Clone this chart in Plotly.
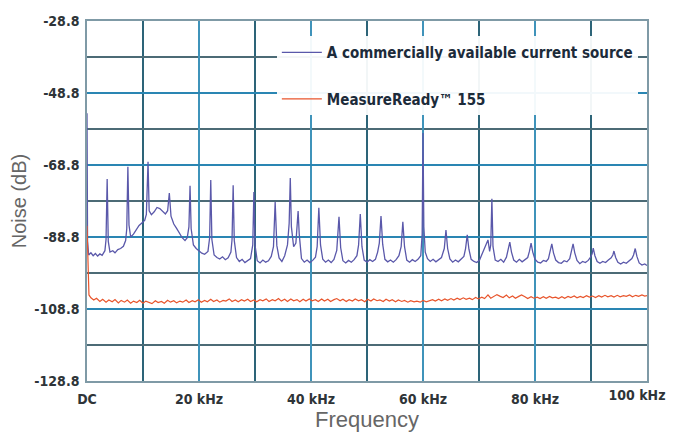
import plotly.graph_objects as go

# ---------------- data ----------------
x_tick_vals = [0, 20, 40, 60, 80, 100]
x_tick_text = ["DC", "20 kHz", "40 kHz", "60 kHz", "80 kHz", "100 kHz"]
y_tick_vals = [-128.8, -108.8, -88.8, -68.8, -48.8, -28.8]
y_tick_text = ["-128.8", "-108.8", "-88.8", "-68.8", "-48.8", "-28.8"]

series_names = ["A commercially available current source", "MeasureReady\u2122 155"]

blue_freq_khz = [
    0.0, 0.1, 0.3, 0.7, 1.1, 1.5, 1.9, 2.3, 2.7, 3.2,
    3.4, 3.6, 3.8, 4.1, 4.6, 5.0, 5.5, 6.0, 6.5, 6.9,
    7.1, 7.3, 7.5, 7.8, 8.3, 8.8, 9.3, 9.8, 10.3, 10.6,
    10.9, 11.1, 11.5, 12.0, 12.5, 13.0, 13.5, 14.0, 14.4, 14.7,
    15.0, 15.5, 16.0, 16.5, 17.0, 17.5, 17.9, 18.2, 18.4, 18.6,
    19.0, 19.5, 20.0, 20.5, 21.0, 21.6, 21.9, 22.1, 22.3, 22.7,
    23.2, 23.7, 24.2, 24.7, 25.2, 25.7, 25.9, 26.1, 26.3, 26.7,
    27.2, 27.7, 28.2, 28.7, 29.2, 29.6, 29.8, 30.0, 30.4, 30.9,
    31.4, 31.9, 32.4, 32.9, 33.3, 33.6, 33.9, 34.3, 34.8, 35.3,
    35.8, 36.1, 36.3, 36.5, 36.9, 37.3, 37.5, 37.7, 37.9, 38.3,
    38.8, 39.3, 39.8, 40.3, 40.8, 41.1, 41.4, 41.7, 42.1, 42.6,
    43.1, 43.6, 44.1, 44.6, 45.0, 45.3, 45.7, 46.2, 46.7, 47.2,
    47.7, 48.2, 48.5, 48.8, 49.1, 49.5, 50.0, 50.5, 51.0, 51.5,
    51.9, 52.2, 52.5, 52.8, 53.2, 53.7, 54.2, 54.7, 55.2, 55.7,
    56.1, 56.4, 56.7, 57.1, 57.6, 58.1, 58.6, 59.1, 59.6, 59.85,
    60.0, 60.15, 60.4, 60.8, 61.3, 61.8, 62.3, 62.8, 63.3, 63.8,
    64.1, 64.4, 64.8, 65.3, 65.8, 66.3, 66.8, 67.3, 67.6, 67.9,
    68.2, 68.6, 69.1, 69.6, 70.1, 70.6, 71.0, 71.4, 71.6, 71.9,
    72.1, 72.3, 72.5, 72.9, 73.4, 73.9, 74.4, 74.9, 75.2, 75.5,
    75.8, 76.2, 76.7, 77.2, 77.7, 78.2, 78.7, 79.0, 79.3, 79.6,
    80.0, 80.5, 81.0, 81.5, 82.0, 82.4, 82.7, 83.0, 83.3, 83.7,
    84.2, 84.7, 85.2, 85.7, 86.2, 86.5, 86.8, 87.1, 87.5, 88.0,
    88.5, 89.0, 89.5, 89.9, 90.2, 90.4, 90.7, 91.1, 91.6, 92.1,
    92.6, 93.1, 93.6, 93.9, 94.1, 94.4, 94.8, 95.3, 95.8, 96.3,
    96.8, 97.3, 97.6, 97.9, 98.2, 98.6, 99.1, 99.6, 100.0,
]
blue_db = [
    -54.4, -90.0, -93.8, -93.2, -94.0, -93.4, -94.1, -93.5, -93.9, -92.6,
    -89.5, -72.7, -90.0, -93.0, -92.6, -93.2, -92.3, -92.0, -91.4, -89.8,
    -86.5, -69.3, -85.5, -88.8, -88.0, -86.6, -85.6, -84.9, -84.2, -82.5,
    -67.9, -81.5, -82.6, -81.8, -80.6, -80.9, -81.6, -82.4, -81.5, -76.6,
    -83.0, -85.2, -86.4, -87.8, -89.0, -89.8, -89.0, -86.0, -74.6, -86.5,
    -91.0, -92.0, -92.6, -93.3, -93.6, -92.8, -89.0, -73.0, -89.5, -93.8,
    -94.5, -94.9, -94.3, -95.1, -94.6, -93.0, -89.5, -74.4, -89.8, -94.5,
    -95.6, -95.0, -95.9, -95.3, -94.8, -91.0, -76.3, -91.0, -95.4, -96.0,
    -95.2, -95.8, -95.4, -94.2, -91.5, -79.1, -91.2, -94.6, -95.6, -94.0,
    -91.0, -85.0, -72.4, -86.0, -91.5, -90.5, -86.0, -81.6, -88.0, -94.8,
    -95.8, -95.2, -95.9, -95.3, -94.4, -91.5, -80.7, -91.0, -95.0, -95.8,
    -95.2, -95.9, -95.0, -92.5, -83.2, -91.8, -95.4, -96.0, -95.3, -95.8,
    -95.1, -94.0, -91.0, -82.4, -91.5, -95.2, -95.8, -95.1, -95.6, -95.0,
    -93.0, -90.5, -83.0, -90.8, -95.0, -95.7, -95.2, -95.8, -95.1, -94.0,
    -91.5, -84.6, -91.5, -95.2, -95.8, -95.1, -95.6, -95.0, -94.0, -88.0,
    -59.9, -86.0, -93.0, -94.8, -95.6, -95.0, -95.7, -95.2, -94.5, -92.0,
    -86.9, -92.0, -94.9, -95.8, -95.2, -95.7, -95.0, -94.2, -92.0, -88.2,
    -92.2, -95.0, -95.6, -95.9, -95.2, -93.5, -92.0, -90.5, -89.6, -92.8,
    -91.0, -78.2, -91.5, -95.2, -95.6, -95.0, -95.8, -94.4, -92.5, -90.2,
    -93.0, -95.2, -95.8, -95.0, -95.7, -95.2, -94.5, -92.8, -90.5, -93.0,
    -95.0, -95.8, -96.0, -95.3, -95.6, -94.8, -93.0, -90.7, -93.2, -95.2,
    -95.9, -96.1, -95.4, -95.7, -94.8, -93.0, -90.7, -93.2, -95.3, -96.2,
    -95.6, -95.9, -95.3, -94.5, -93.5, -91.9, -94.0, -95.6, -96.1, -95.6,
    -95.9, -95.2, -94.6, -93.8, -92.7, -94.5, -95.8, -96.3, -95.8, -96.1,
    -95.5, -94.8, -93.8, -92.0, -94.2, -96.0, -96.6, -96.3, -96.7,
]

red_freq_khz = [
    0.0, 0.15, 0.35, 0.7, 1.2, 1.7, 2.3, 2.8, 3.4, 3.9,
    4.5, 5.0, 5.6, 6.1, 6.7, 7.2, 7.8, 8.3, 8.9, 9.4,
    10.0, 10.5, 11.1, 11.6, 12.2, 12.7, 13.3, 13.8, 14.4, 14.9,
    15.5, 16.0, 16.6, 17.1, 17.7, 18.2, 18.8, 19.3, 19.9, 20.4,
    21.0, 21.5, 22.1, 22.6, 23.2, 23.7, 24.3, 24.8, 25.4, 25.9,
    26.5, 27.0, 27.6, 28.1, 28.7, 29.2, 29.8, 30.3, 30.9, 31.4,
    32.0, 32.5, 33.1, 33.6, 34.2, 34.7, 35.3, 35.8, 36.4, 36.9,
    37.5, 38.0, 38.6, 39.1, 39.7, 40.2, 40.8, 41.3, 41.9, 42.4,
    43.0, 43.5, 44.1, 44.6, 45.2, 45.7, 46.3, 46.8, 47.4, 47.9,
    48.5, 49.0, 49.6, 50.1, 50.7, 51.2, 51.8, 52.3, 52.9, 53.4,
    54.0, 54.5, 55.1, 55.6, 56.2, 56.7, 57.3, 57.8, 58.4, 58.9,
    59.5, 60.0, 60.6, 61.1, 61.7, 62.2, 62.8, 63.3, 63.9, 64.4,
    65.0, 65.5, 66.1, 66.6, 67.2, 67.7, 68.3, 68.8, 69.4, 69.9,
    70.5, 71.0, 71.6, 72.1, 72.7, 73.2, 73.8, 74.3, 74.9, 75.4,
    76.0, 76.5, 77.1, 77.6, 78.2, 78.7, 79.3, 79.8, 80.4, 80.9,
    81.5, 82.0, 82.6, 83.1, 83.7, 84.2, 84.8, 85.3, 85.9, 86.4,
    87.0, 87.5, 88.1, 88.6, 89.2, 89.7, 90.3, 90.8, 91.4, 91.9,
    92.5, 93.0, 93.6, 94.1, 94.7, 95.2, 95.8, 96.3, 96.9, 97.4,
    98.0, 98.5, 99.1, 99.6, 100.0,
]
red_db = [
    -85.7, -97.0, -104.9, -105.7, -106.3, -105.8, -106.7, -106.1, -106.9, -106.3,
    -106.8, -106.2, -107.1, -106.4, -106.9, -106.3, -107.2, -106.6, -107.0, -106.4,
    -107.2, -106.6, -106.9, -107.3, -106.5, -107.0, -106.7, -107.2, -106.4, -106.9,
    -106.5, -107.1, -106.6, -106.9, -106.3, -107.0, -106.5, -106.8, -106.2, -106.9,
    -106.4, -106.8, -106.1, -106.7, -106.3, -106.9, -106.4, -106.6, -106.0, -106.7,
    -106.3, -106.8, -106.2, -106.6, -106.1, -106.7, -106.3, -106.8, -106.2, -106.5,
    -106.0, -106.7, -106.2, -106.5, -105.9, -106.6, -106.1, -106.7, -106.0, -106.5,
    -106.2, -106.8, -106.1, -106.6, -106.0, -106.5, -106.2, -106.7, -106.0, -106.6,
    -106.1, -106.7, -106.2, -105.9, -106.5, -106.1, -106.7, -106.2, -106.6, -106.0,
    -106.5, -106.2, -106.8, -106.1, -106.6, -106.0, -106.5, -106.3, -106.7, -106.1,
    -106.6, -106.2, -106.8, -106.3, -106.7, -106.4, -106.9, -106.5, -106.8, -106.6,
    -106.9, -106.4, -106.8, -106.5, -106.2, -106.6, -106.1, -106.5, -106.0, -106.4,
    -105.9, -106.3, -105.8, -106.2, -105.7, -106.1, -105.8, -106.2, -105.6, -106.0,
    -105.5, -105.9, -104.9, -105.8, -105.2, -104.8, -105.3, -105.6, -104.9, -105.7,
    -105.2, -105.8, -105.3, -104.9, -105.4, -105.9, -105.4, -105.8, -105.5, -105.9,
    -105.4, -105.8, -105.3, -105.7, -105.5, -105.9, -105.4, -105.8, -105.3, -105.6,
    -105.2, -105.7, -105.3, -105.6, -105.1, -105.5, -105.2, -105.6, -105.1, -105.5,
    -105.0, -105.4, -105.1, -105.5, -105.0, -105.4, -105.1, -105.3, -104.9, -105.4,
    -105.0, -105.3, -104.9, -105.2, -105.1,
]

assert len(blue_freq_khz) == len(blue_db)
assert len(red_freq_khz) == len(red_db)

# ---------------- figure ----------------
blue = "#5a58aa"
red = "#e8552c"
cond = "DejaVu Sans Condensed, Liberation Sans Narrow, sans-serif"
tick_font = dict(family=cond, size=14, color="#2e3438", weight="bold")

fig = go.Figure()
fig.add_trace(go.Scatter(x=blue_freq_khz, y=blue_db, mode="lines", name=series_names[0],
                         line=dict(color=blue, width=1.3), legendgroup="a"))
# second trace sits on an overlaid x axis with the same 0-100 kHz range; that axis
# only carries the right-edge "100 kHz" label, nudged left so it stays in the window
fig.add_trace(go.Scatter(x=red_freq_khz, y=red_db, mode="lines", name=series_names[1],
                         line=dict(color=red, width=1.2), legendgroup="b", xaxis="x2"))

# the page body has an 8px margin; plot area lands at x 87..647, y 21..381 of the window
fig.update_layout(
    width=667, height=424,
    margin=dict(l=79, r=28, t=13, b=51),
    paper_bgcolor="white", plot_bgcolor="white",
    showlegend=True,
    legend=dict(
        x=0.339, y=0.958, xanchor="left", yanchor="top",
        bgcolor="rgba(255,255,255,0.94)", borderwidth=0,
        font=dict(family=cond, size=15, color="#1c2b3a", weight="bold"),
        tracegroupgap=24, traceorder="grouped", itemwidth=40,
    ),
    xaxis=dict(
        range=[0, 100], tickmode="array", tickvals=x_tick_vals[:-1], ticktext=x_tick_text[:-1],
        showgrid=True, gridcolor="#3f93ba", gridwidth=1.8,
        minor=dict(dtick=10, showgrid=True, gridcolor="#2d6478", gridwidth=1.8),
        showline=True, linecolor="#7f9aa6", linewidth=1.5, mirror=True,
        ticks="", tickfont=tick_font, zeroline=False, automargin=False,
        ticklabelstandoff=4, ticklabeloverflow="allow",
        title=dict(text="Frequency", standoff=3,
                   font=dict(family="Liberation Sans, Arial, sans-serif", size=22, color="#666666")),
    ),
    xaxis2=dict(
        overlaying="x", anchor="y", side="bottom",
        range=[0, 100], tickmode="array", tickvals=x_tick_vals[-1:], ticktext=x_tick_text[-1:],
        showgrid=False, zeroline=False, showline=False, ticks="",
        tickfont=tick_font, automargin=False,
        ticklabelstandoff=4, ticklabeloverflow="allow", ticklabelshift=-10,
    ),
    yaxis=dict(
        range=[-128.8, -28.8], tickmode="array", tickvals=y_tick_vals, ticktext=y_tick_text,
        showgrid=True, gridcolor="#2a86b3", gridwidth=1.8,
        minor=dict(tick0=-128.8, dtick=10, showgrid=True, gridcolor="#4c6b76", gridwidth=1.8),
        showline=True, linecolor="#7f9aa6", linewidth=1.5, mirror=True,
        ticks="", tickfont=tick_font, zeroline=False, automargin=False,
        ticklabelstandoff=3, ticklabeloverflow="allow",
        title=dict(text="Noise (dB)", standoff=6,
                   font=dict(family="Liberation Sans, Arial, sans-serif", size=20, color="#666666")),
    ),
)

fig.write_html("out.html")
